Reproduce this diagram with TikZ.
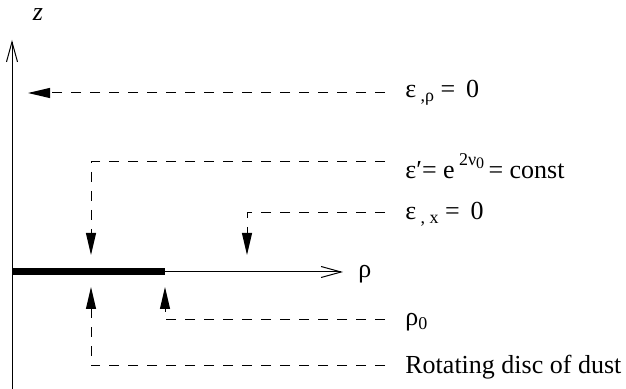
\documentclass[tikz,border=0pt]{standalone}
\usepackage{fontspec}
\setmainfont{Liberation Serif}
\usetikzlibrary{arrows.meta}
\newcommand{\lowsub}[1]{\raisebox{-0.35ex}{\small #1}}

\begin{document}
\begin{tikzpicture}[x=0.5pt, y=-0.5pt,
  every node/.style={inner sep=0pt, font=\fontsize{13}{15}\selectfont},
  lbl/.style={anchor=west},
  axis/.style={line width=0.5pt, -{Straight Barb[length=10pt, width=5.5pt]}},
  lead/.style={line width=0.5pt, dash pattern=on 5pt off 4.5pt},
  tip/.style={-{Triangle[length=11pt, width=5pt]}}]
\useasboundingbox (0,0) rectangle (626,389);
% axes and disc
\coordinate (zbot) at (12,389);
\coordinate (ztop) at (12,40);
\coordinate (O) at (12,272);
\coordinate (rend) at (343,272);
\coordinate (R0) at (165,272);
\draw[axis] (zbot) -- (ztop);
\draw[axis] (O) -- (rend);
\draw[line width=3.5pt] (O) -- (R0);
\node (z) at (38,15) {\itshape z};
\node[lbl] (rho) at (358,274) {ρ};
% labels
\node[lbl] (erho) at (405,93) {ε\,\lowsub{,ρ} = \,0};
\node[lbl] (eprime) at (405,166) {ε′= e\,\raisebox{1.1ex}{\small 2ν\lowsub{\footnotesize 0}}\,= const};
\node[lbl] (ex) at (405,214) {ε\,\lowsub{, x} = \,0};
\node[lbl] (rho0) at (405,322) {ρ\lowsub{0}};
\node[lbl] (disc) at (405,367) {Rotating disc of dust};
% leader ends
\coordinate (erhoA) at (28,93);
\coordinate (epA) at (91,255);
\coordinate (exA) at (247,255);
\coordinate (rho0A) at (165,287);
\coordinate (discA) at (91,287);
% leaders
\draw[lead, tip] ([xshift=-10pt]erho.west) -- (erhoA);
\draw[lead, tip] ([xshift=-10pt]eprime.west |- 0,162) -| (epA);
\draw[lead, tip] ([xshift=-10pt]ex.west |- 0,213) -| (exA);
\draw[lead, tip] ([xshift=-10pt]rho0.west |- 0,320) -| (rho0A);
\draw[lead, tip] ([xshift=-10pt]disc.west |- 0,366) -| (discA);
\end{tikzpicture}
\end{document}
